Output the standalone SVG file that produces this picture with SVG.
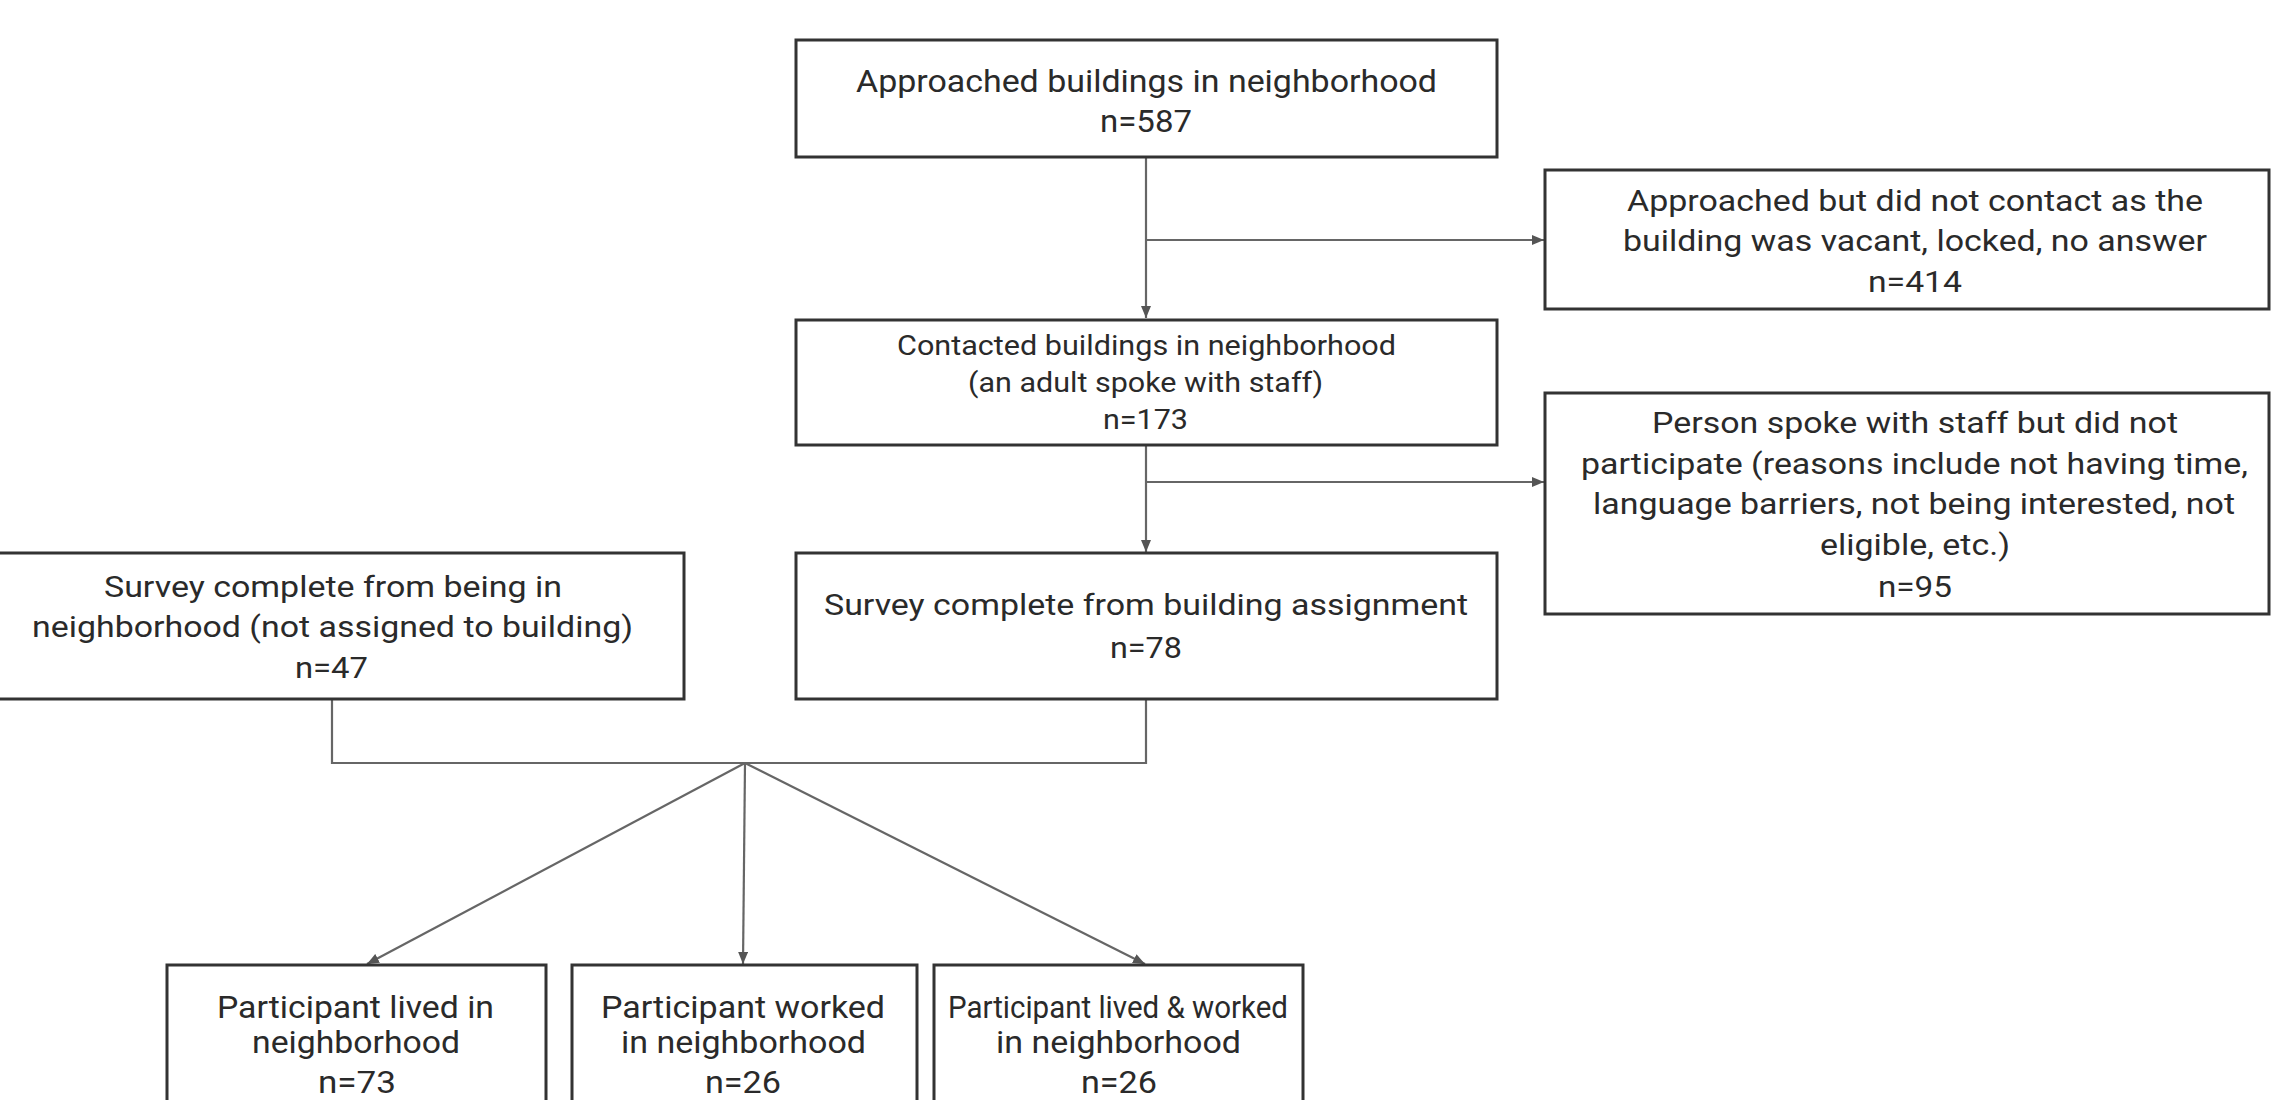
<svg xmlns="http://www.w3.org/2000/svg" width="2273" height="1100" viewBox="0 0 2273 1100">
<style>
.box{fill:#fff;stroke:#333;stroke-width:3}
.ln{fill:none;stroke:#666;stroke-width:2.2}
text{font-family:Roboto,"Liberation Sans",sans-serif;fill:#2a2a2a}
.f32{font-size:32px}
.f30{font-size:30px}
.f28{font-size:28px}
</style>
<defs>
<marker id="ah" viewBox="0 0 12 10" refX="12" refY="5" markerWidth="12" markerHeight="10" markerUnits="userSpaceOnUse" orient="auto">
<path d="M0,0 L12,5 L0,10 z" fill="#555"/>
</marker>
</defs>
<rect width="2273" height="1100" fill="#fff"/>
<g id="connectors">
<line class="ln" x1="1146" y1="157" x2="1146" y2="318" marker-end="url(#ah)"/>
<line class="ln" x1="1146" y1="240" x2="1544" y2="240" marker-end="url(#ah)"/>
<line class="ln" x1="1146" y1="445" x2="1146" y2="552" marker-end="url(#ah)"/>
<line class="ln" x1="1146" y1="482" x2="1544" y2="482" marker-end="url(#ah)"/>
<polyline class="ln" points="332,699 332,763 1146,763 1146,699"/>
<line class="ln" x1="745" y1="763" x2="367" y2="964" marker-end="url(#ah)"/>
<line class="ln" x1="745" y1="763" x2="743" y2="964" marker-end="url(#ah)"/>
<line class="ln" x1="745" y1="763" x2="1145" y2="964" marker-end="url(#ah)"/>
</g>
<g id="n_approached">
<rect class="box" x="796" y="40" width="701" height="117"/>
<text class="f32" x="856" y="92" textLength="581" lengthAdjust="spacingAndGlyphs">Approached buildings in neighborhood</text>
<text class="f32" x="1100" y="132" textLength="92" lengthAdjust="spacingAndGlyphs">n=587</text>
</g>
<g id="n_not_contacted">
<rect class="box" x="1545" y="170" width="724" height="139"/>
<text class="f30" x="1627" y="211" textLength="576" lengthAdjust="spacingAndGlyphs">Approached but did not contact as the</text>
<text class="f30" x="1623" y="251" textLength="584" lengthAdjust="spacingAndGlyphs">building was vacant, locked, no answer</text>
<text class="f30" x="1868" y="292" textLength="94" lengthAdjust="spacingAndGlyphs">n=414</text>
</g>
<g id="n_contacted">
<rect class="box" x="796" y="320" width="701" height="125"/>
<text class="f28" x="897" y="355" textLength="499" lengthAdjust="spacingAndGlyphs">Contacted buildings in neighborhood</text>
<text class="f28" x="968" y="392" textLength="355" lengthAdjust="spacingAndGlyphs">(an adult spoke with staff)</text>
<text class="f28" x="1103" y="429" textLength="85" lengthAdjust="spacingAndGlyphs">n=173</text>
</g>
<g id="n_not_participate">
<rect class="box" x="1545" y="393" width="724" height="221"/>
<text class="f30" x="1652" y="433" textLength="526" lengthAdjust="spacingAndGlyphs">Person spoke with staff but did not</text>
<text class="f30" x="1581" y="474" textLength="667" lengthAdjust="spacingAndGlyphs">participate (reasons include not having time,</text>
<text class="f30" x="1593" y="514" textLength="642" lengthAdjust="spacingAndGlyphs">language barriers, not being interested, not</text>
<text class="f30" x="1820" y="555" textLength="190" lengthAdjust="spacingAndGlyphs">eligible, etc.)</text>
<text class="f30" x="1878" y="597" textLength="74" lengthAdjust="spacingAndGlyphs">n=95</text>
</g>
<g id="n_survey_neighborhood">
<rect class="box" x="-20" y="553" width="704" height="146"/>
<text class="f30" x="104" y="597" textLength="458" lengthAdjust="spacingAndGlyphs">Survey complete from being in</text>
<text class="f30" x="32" y="637" textLength="601" lengthAdjust="spacingAndGlyphs">neighborhood (not assigned to building)</text>
<text class="f30" x="295" y="678" textLength="73" lengthAdjust="spacingAndGlyphs">n=47</text>
</g>
<g id="n_survey_building">
<rect class="box" x="796" y="553" width="701" height="146"/>
<text class="f30" x="824" y="615" textLength="644" lengthAdjust="spacingAndGlyphs">Survey complete from building assignment</text>
<text class="f30" x="1110" y="658" textLength="72" lengthAdjust="spacingAndGlyphs">n=78</text>
</g>
<g id="n_lived">
<rect class="box" x="167" y="965" width="379" height="160"/>
<text class="f32" x="217" y="1018" textLength="277" lengthAdjust="spacingAndGlyphs">Participant lived in</text>
<text class="f32" x="252" y="1053" textLength="208" lengthAdjust="spacingAndGlyphs">neighborhood</text>
<text class="f32" x="318" y="1093" textLength="78" lengthAdjust="spacingAndGlyphs">n=73</text>
</g>
<g id="n_worked">
<rect class="box" x="572" y="965" width="345" height="160"/>
<text class="f32" x="601" y="1018" textLength="284" lengthAdjust="spacingAndGlyphs">Participant worked</text>
<text class="f32" x="621" y="1053" textLength="245" lengthAdjust="spacingAndGlyphs">in neighborhood</text>
<text class="f32" x="705" y="1093" textLength="76" lengthAdjust="spacingAndGlyphs">n=26</text>
</g>
<g id="n_lived_worked">
<rect class="box" x="934" y="965" width="369" height="160"/>
<text class="f32" x="948" y="1018" textLength="340" lengthAdjust="spacingAndGlyphs">Participant lived &amp; worked</text>
<text class="f32" x="996" y="1053" textLength="245" lengthAdjust="spacingAndGlyphs">in neighborhood</text>
<text class="f32" x="1081" y="1093" textLength="76" lengthAdjust="spacingAndGlyphs">n=26</text>
</g>
</svg>
